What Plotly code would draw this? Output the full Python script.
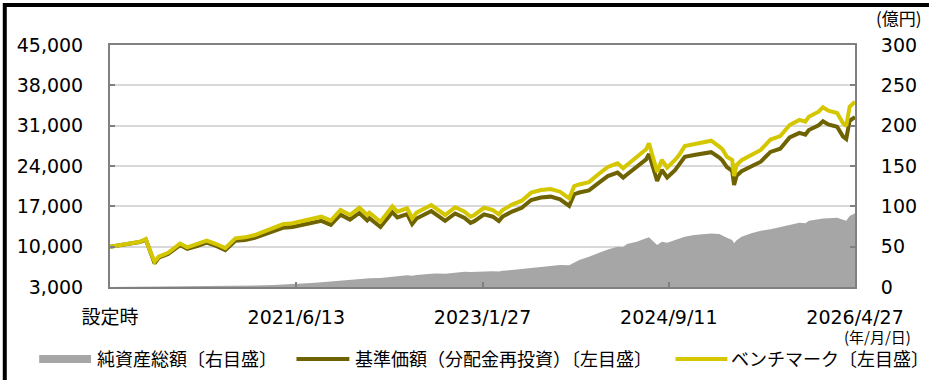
import plotly.graph_objects as go

# ---- data -------------------------------------------------------------
dates = [
    "2019-10-29", "2019-12-01", "2020-01-01", "2020-02-01", "2020-02-20", "2020-03-01",
    "2020-03-19", "2020-04-01", "2020-05-01", "2020-06-08", "2020-07-01", "2020-08-01",
    "2020-09-01", "2020-10-01", "2020-10-30", "2020-12-01", "2021-01-01", "2021-02-01",
    "2021-03-01", "2021-04-01", "2021-05-01", "2021-06-01", "2021-07-01", "2021-08-01",
    "2021-09-01", "2021-10-01", "2021-11-01", "2021-12-01", "2021-12-31", "2022-01-25",
    "2022-02-01", "2022-03-08", "2022-04-15", "2022-05-01", "2022-06-01", "2022-06-17",
    "2022-07-01", "2022-08-17", "2022-09-01", "2022-09-30", "2022-11-01", "2022-12-01",
    "2022-12-20", "2023-01-01", "2023-02-01", "2023-03-01", "2023-03-20", "2023-04-01",
    "2023-05-01", "2023-06-01", "2023-07-01", "2023-08-01", "2023-09-01", "2023-10-01",
    "2023-10-30", "2023-11-15", "2023-12-01", "2024-01-01", "2024-02-01", "2024-03-01",
    "2024-04-01", "2024-04-19", "2024-05-01", "2024-06-01", "2024-07-01", "2024-07-10",
    "2024-08-05", "2024-08-20", "2024-09-06", "2024-10-01", "2024-10-14", "2024-11-01",
    "2024-12-01", "2024-12-31", "2025-01-24", "2025-02-19", "2025-03-01", "2025-03-15",
    "2025-04-01", "2025-04-07", "2025-04-15", "2025-05-01", "2025-06-01", "2025-07-01",
    "2025-08-01", "2025-09-01", "2025-10-01", "2025-11-01", "2025-11-20", "2025-12-01",
    "2026-01-01", "2026-01-15", "2026-02-01", "2026-03-01", "2026-03-20", "2026-03-30",
    "2026-04-10", "2026-04-27",
]

benchmark = [
    10000, 10290, 10580, 10860, 11330, 9720,
    7390, 8260, 8950, 10550, 9890, 10410,
    11040, 10460, 9750, 11450, 11620, 12020,
    12600, 13360, 13880, 14060, 14450, 14750,
    15200, 14510, 16360, 15500, 16760, 15500,
    15900, 14330, 17000, 16070, 16660, 14930,
    15900, 17230, 16660, 15500, 16830, 16070,
    15200, 15500, 16750, 16360, 15600, 16360,
    17300, 17980, 19370, 19830, 20010, 19540,
    18390, 20500, 20800, 21200, 22610, 23830,
    24460, 23600, 24170, 25610, 26900, 27940,
    23000, 25040, 23700, 25040, 25900, 27450,
    27820, 28150, 28390, 27350, 26900, 25600,
    25040, 22260, 24170, 25000, 25910, 26780,
    28600, 29200, 31120, 32000, 31690, 32560,
    33420, 34200, 33600, 33200, 31410, 30940,
    34290, 35160,
]

nav = [
    10000, 10270, 10540, 10800, 11220, 9620,
    7100, 8080, 8740, 10280, 9620, 10120,
    10720, 10130, 9400, 11020, 11150, 11520,
    12080, 12800, 13280, 13430, 13790, 14060,
    14480, 13780, 15560, 14700, 15850, 14560,
    14950, 13420, 15980, 15060, 15640, 13930,
    14880, 16180, 15620, 14480, 15760, 14980,
    14130, 14420, 15600, 15200, 14450, 15220,
    16100, 16750, 18100, 18520, 18680, 18220,
    17080, 19100, 19400, 19760, 21080, 22250,
    22850, 22000, 22530, 23900, 25150, 26090,
    21400, 23300, 22000, 23280, 24200, 25600,
    25900, 26200, 26400, 25450, 24950, 23800,
    23150, 20700, 22300, 23100, 23950, 24750,
    26450, 27000, 28950, 29750, 29450, 30250,
    31050, 31750, 31200, 30800, 29100, 28700,
    31850, 32500,
]

# net assets, 億円 (right axis)
net_assets = [
    0.1, 0.2, 0.3, 0.3, 0.4, 0.4,
    0.3, 0.4, 0.5, 0.6, 0.6, 0.7,
    0.8, 0.9, 1.0, 1.3, 1.5, 1.8,
    2.1, 2.6, 3.0, 3.5, 4.3, 5.0,
    6.0, 7.0, 8.3, 9.3, 10.5, 10.8,
    11.0, 11.3, 13.0, 13.4, 14.5, 14.0,
    14.8, 16.3, 16.8, 16.5, 18.0, 18.8,
    18.5, 18.8, 19.2, 19.5, 19.3, 20.2,
    21.0, 22.3, 23.8, 25.2, 26.3, 27.3,
    27.0, 30.5, 33.5, 37.6, 42.5, 46.5,
    50.0, 49.5, 53.3, 56.2, 60.4, 61.6,
    52.1, 56.0, 54.9, 58.3, 59.5, 62.4,
    64.5, 65.7, 66.2, 65.7, 63.5, 61.0,
    58.3, 54.2, 58.0, 62.4, 66.6, 69.8,
    71.5, 74.0, 76.9, 79.7, 79.0, 82.2,
    83.9, 85.0, 85.2, 85.9, 83.5, 82.2,
    88.0, 91.4,
]

tick_dates = ["2019-10-29", "2021-06-13", "2023-01-27", "2024-09-11", "2026-04-27"]
tick_labels = ["設定時", "2021/6/13", "2023/1/27", "2024/9/11", "2026/4/27"]
left_ticks = [3000, 10000, 17000, 24000, 31000, 38000, 45000]
right_ticks = [0, 50, 100, 150, 200, 250, 300]

names = ["純資産総額〔右目盛〕", "基準価額（分配金再投資）〔左目盛〕", "ベンチマーク〔左目盛〕"]

# ---- styling ----------------------------------------------------------
GRAY = "#a6a6a6"
OLIVE = "#6e6300"
YELLOW = "#d4c700"
FRAME = "#808080"
GRID = "#d9d9d9"
NUM_FONT = "DejaVu Sans, Noto Sans CJK JP, sans-serif"
JP_FONT = "Noto Sans CJK JP, sans-serif"

W, H = 929, 380
L, R, T, B = 110, 72, 45, 93


def px(x):
    return (x - L) / (W - L - R)


def py(y):
    return (H - B - y) / (H - T - B)


fig = go.Figure()
fig.add_trace(go.Scatter(
    x=dates, y=net_assets, yaxis="y", name=names[0], mode="lines",
    fill="tozeroy", fillcolor=GRAY, line=dict(width=0, color=GRAY),
))
fig.add_trace(go.Scatter(
    x=dates, y=nav, yaxis="y2", name=names[1], mode="lines",
    line=dict(width=4, color=OLIVE),
))
fig.add_trace(go.Scatter(
    x=dates, y=benchmark, yaxis="y2", name=names[2], mode="lines",
    line=dict(width=4, color=YELLOW),
))

axis_common = dict(
    showline=True, linecolor=FRAME, linewidth=2,
    ticks="inside", ticklen=5, tickwidth=2, tickcolor=FRAME,
    tickfont=dict(family=NUM_FONT, size=19, color="#000000"),
    zeroline=False, fixedrange=True,
)

fig.update_layout(
    width=W, height=H,
    margin=dict(l=L, r=R, t=T, b=B, pad=0),
    paper_bgcolor="white", plot_bgcolor="white",
    showlegend=False,
    xaxis=dict(
        type="date", range=[tick_dates[0], tick_dates[-1]],
        tickmode="array", tickvals=tick_dates, ticktext=tick_labels,
        showgrid=False, mirror=True, ticklabelstandoff=12,
        **axis_common,
    ),
    yaxis=dict(
        side="right", range=[0, 300], tickmode="array", tickvals=right_ticks,
        showgrid=False, ticklabelstandoff=20,
        **axis_common,
    ),
    yaxis2=dict(
        side="left", overlaying="y", range=[3000, 45000], tickmode="array",
        tickvals=left_ticks, tickformat=",d", showgrid=True,
        gridcolor=GRID, gridwidth=2, ticklabelstandoff=21,
        **axis_common,
    ),
)

# outer frame (top and left edges)
fig.add_shape(type="line", xref="paper", yref="paper",
              x0=px(4.5), x1=px(940), y0=py(5), y1=py(5),
              line=dict(color="#000000", width=4))
fig.add_shape(type="line", xref="paper", yref="paper",
              x0=px(4.5), x1=px(4.5), y0=py(3), y1=py(390),
              line=dict(color="#000000", width=4))

# unit labels
fig.add_annotation(text="(億円)", xref="paper", yref="paper",
                   x=px(876), y=py(17.5), xanchor="left", yanchor="middle",
                   showarrow=False, font=dict(family=JP_FONT, size=17, color="#000000"))
fig.add_annotation(text="(年/月/日)", xref="paper", yref="paper",
                   x=px(914), y=py(336), xanchor="right", yanchor="middle",
                   showarrow=False, borderpad=0,
                   font=dict(family=JP_FONT, size=15, color="#000000"))

# legend row
legend_y = 359
fig.add_shape(type="rect", xref="paper", yref="paper",
              x0=px(39), x1=px(91), y0=py(legend_y + 4), y1=py(legend_y - 4),
              fillcolor=GRAY, line=dict(width=0))
fig.add_shape(type="line", xref="paper", yref="paper",
              x0=px(297), x1=px(350), y0=py(legend_y), y1=py(legend_y),
              line=dict(color=OLIVE, width=4))
fig.add_shape(type="line", xref="paper", yref="paper",
              x0=px(677), x1=px(729), y0=py(legend_y), y1=py(legend_y),
              line=dict(color=YELLOW, width=4))
for name, x_left in zip(names, [96, 355, 732]):
    fig.add_annotation(text=name, xref="paper", yref="paper",
                       x=px(x_left), y=py(legend_y - 1), xanchor="left", yanchor="middle",
                       showarrow=False, borderpad=0,
                       font=dict(family=JP_FONT, size=18, color="#000000"))

fig.write_html("out.html")
